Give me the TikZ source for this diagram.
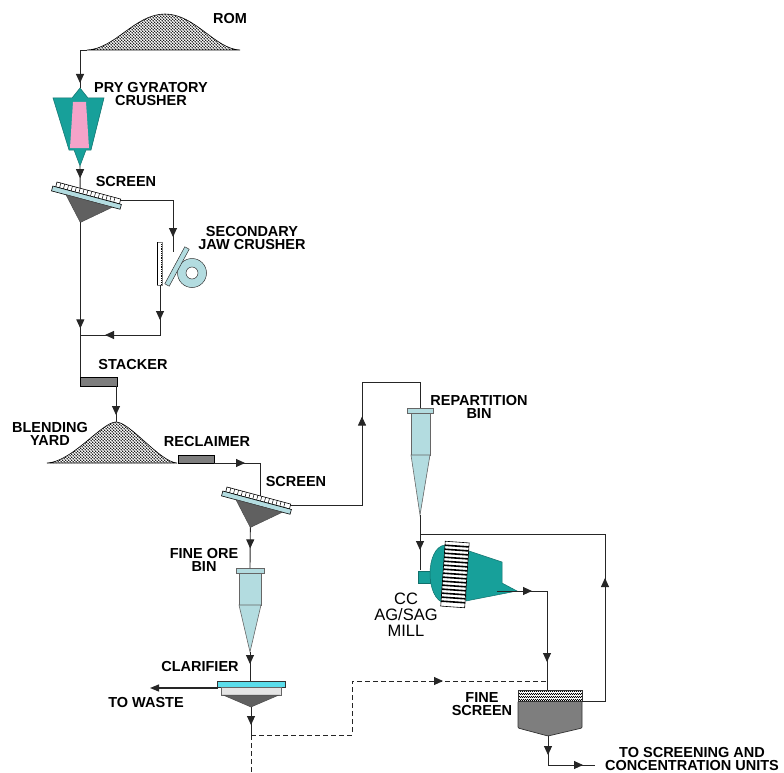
\documentclass[tikz,border=0pt]{standalone}
\usepackage{fontspec}
\setmainfont{Liberation Sans}
\usetikzlibrary{arrows.meta,decorations.markings,patterns}
\definecolor{millteal}{HTML}{17A09A}
\definecolor{linerpink}{HTML}{F4A3C9}
\definecolor{binblue}{HTML}{B3DCE0}
\definecolor{clarcyan}{HTML}{5BDDEB}
\definecolor{beltgray}{HTML}{7E7E7E}
\pgfdeclarepatternformonly{piledots}{\pgfpointorigin}{\pgfqpoint{3.4pt}{3.4pt}}{\pgfqpoint{3.4pt}{3.4pt}}{%
  \pgfpathcircle{\pgfqpoint{0.85pt}{0.85pt}}{0.9pt}%
  \pgfpathcircle{\pgfqpoint{2.55pt}{2.55pt}}{0.9pt}%
  \pgfusepath{fill}}
\pgfdeclarepatternformonly{meshdots}{\pgfpointorigin}{\pgfqpoint{2.4pt}{2.4pt}}{\pgfqpoint{2.4pt}{2.4pt}}{%
  \pgfpathcircle{\pgfqpoint{0.6pt}{0.6pt}}{0.85pt}%
  \pgfpathcircle{\pgfqpoint{1.8pt}{1.8pt}}{0.85pt}%
  \pgfusepath{fill}}

\begin{document}
\begin{tikzpicture}[x=1pt,y=-1pt,
    flow/.style={draw=black!85, line width=0.9pt},
    arr/.style={postaction={decorate,decoration={markings,mark=at position #1 with {\arrow{Triangle[length=9pt,width=8pt]}}}}},
    lbl/.style={font=\bfseries\fontsize{14.5}{13}\selectfont, align=center, inner sep=0pt},
    pile/.style={draw=black, line width=0.6pt, pattern=piledots},
    belt/.style={draw=black, line width=0.6pt, fill=beltgray},
    binbox/.style={draw=black!60, line width=0.6pt, fill=binblue},
    vibscreen/.pic={
        \draw[fill=white, line width=0.6pt] (0,0) rectangle (66,5);
        \foreach \u in {4,8,...,62} \draw[line width=0.5pt] (\u,0) -- (\u,5);
        \draw[fill=binblue, line width=0.6pt] (-3,5) rectangle (68,10);
        \draw[fill=gray!75!black, draw=black!70, line width=0.5pt] (12,10) -- (60,10) -- (33,33) -- cycle;
        \coordinate (-in) at (#1,0);
        \coordinate (-out) at (66,1);
        \coordinate (-apex) at (33,33);
    }]
\useasboundingbox (0,0) rectangle (784,773);

\coordinate (rom-foot) at (87,50);
\coordinate (cr-top) at (80,88);
\coordinate (cr-bot) at (80,166);
\coordinate (jaw-in) at (173,252);
\coordinate (jaw-bot) at (160,285);
\coordinate (j1) at (80,335);
\coordinate (stk-l) at (80,377);
\coordinate (stk-r) at (116,386);
\coordinate (yard-top) at (116,422);
\coordinate (recl-r) at (214,463);
\coordinate (c1) at (362,382);
\coordinate (rb-top) at (420,408);
\coordinate (rb-apex) at (420,515);
\coordinate (rb-split) at (420,534);
\coordinate (mill-in) at (420,570);
\coordinate (mill-out) at (497,591);
\coordinate (fob-top) at (250,568);
\coordinate (fob-apex) at (250,652);
\coordinate (clar-top) at (250,681);
\coordinate (clar-left) at (218,688);
\coordinate (waste) at (150,688);
\coordinate (clar-apex) at (251,707);
\coordinate (dash-split) at (251,735);
\coordinate (dash-end) at (251,773);
\coordinate (c2) at (352,681);
\coordinate (fs-top) at (547,690);
\coordinate (fs-right) at (582,701);
\coordinate (fs-apex) at (548,736);
\coordinate (c3) at (605,534);
\coordinate (prod) at (595,765);

% ROM pile and primary crusher
\draw[pile] (87,50) .. controls (115,49) and (135,14) .. (165,14) .. controls (195,14) and (215,49) .. (240,50) -- cycle;
\draw[fill=millteal, draw=millteal!70!black, line width=0.5pt] (53,98) -- (72,98) -- (80,88) -- (88,98) -- (104,98) -- (91,150) -- (86,150) -- (80,166) -- (74,150) -- (69,150) -- cycle;
\fill[linerpink] (73,102) -- (86,102) -- (89,148) -- (70,148) -- cycle;

% screens
\pic[rotate=-15] (s1) at (57,182) {vibscreen=24};
\pic[rotate=-15] (s2) at (227,487) {vibscreen=35};

% secondary jaw crusher
\draw[fill=white, draw=black!50, line width=0.5pt] (157,242) rectangle (162,285);
\draw[line width=0.8pt] (157,242) -- (157,285);
\draw[densely dotted, line width=0.8pt] (161,244) -- (161,284);
\draw[fill=binblue, draw=black!80, line width=0.5pt] (192,273) circle (14.5);
\draw[fill=white, draw=black!80, line width=0.5pt] (192,273) circle (6);
\draw[fill=binblue, draw=black!80, line width=0.5pt] (164.8,283.8) -- (184.8,246.8) -- (189.2,249.2) -- (169.2,286.2) -- cycle;

% stacker, blending yard, reclaimer
\draw[belt] (80,377) rectangle (117,386);
\draw[pile] (47,463) .. controls (72,462) and (102,422) .. (116,422) .. controls (130,422) and (160,462) .. (177,463) -- cycle;
\draw[belt] (178,455) rectangle (214,463);

% bins
\draw[binbox] (411,413) rectangle (430,455);
\draw[binbox] (411,455) -- (430,455) -- (420,515) -- cycle;
\draw[binbox] (407,408) rectangle (433,413);
\draw[binbox] (239,573) rectangle (261,605);
\draw[binbox] (239,605) -- (261,605) -- (250,652) -- cycle;
\draw[binbox] (236,568) rectangle (264,573);

% mill
\draw[fill=millteal, draw=millteal!70!black, line width=0.5pt] (418,571) rectangle (430,583);
\draw[fill=millteal, draw=millteal!70!black, line width=0.5pt] (445,545) .. controls (425,547) and (425,600) .. (445,603) -- cycle;
\draw[fill=millteal, draw=millteal!70!black, line width=0.5pt] (466,550) -- (502,562) -- (502,583) -- (517,591) -- (466,601) -- cycle;
\begin{scope}[rotate around={-4:(455,574)}]
\draw[fill=white, line width=0.6pt] (443,542) rectangle (467,607);
\foreach \v in {546,550,...,604} \draw[line width=1.6pt] (443,\v) -- (467,\v);
\end{scope}

% clarifier
\draw[fill=clarcyan, draw=black!80, line width=0.6pt] (217,681) rectangle (285,687);
\draw[fill=gray!20, draw=black!60, line width=0.5pt] (221,687) rectangle (281,695);
\draw[fill=gray!75!black, draw=black!70, line width=0.5pt] (223,695) -- (251,707) -- (279,695) -- cycle;

% fine screen
\draw[fill=beltgray, draw=black!80, line width=0.7pt, rounded corners=1pt] (518,701) -- (518,728) -- (548,736) -- (582,728) -- (582,701) -- cycle;
\fill[white] (518,690) rectangle (582,701);
\draw[draw=black!80, line width=0.6pt, pattern=meshdots] (518,690) rectangle (582,701);

% flows
\draw[flow, arr=-5pt] (rom-foot) -| (cr-top);
\draw[flow, arr=-10pt] (cr-bot) -- (s1-in);
\draw[flow, arr=-15pt] (s1-out) -| (jaw-in);
\draw[flow, arr=106pt] (s1-apex) -- (s1-apex |- stk-l);
\draw[flow, arr=35pt, arr=105pt] (jaw-bot) |- (j1);
\draw[flow, arr=-7pt] (stk-r) -- (yard-top);
\draw[flow, arr=31pt] (recl-r) -| (s2-in);
\draw[flow, arr=21pt] (s2-apex) -- (fob-top);
\draw[flow, arr=160pt] (s2-out) -| (c1) -| (rb-top);
\draw[flow, arr=12pt] (fob-apex) -- (clar-top);
\draw[flow, line width=1.3pt, -{Triangle[length=9pt,width=7pt]}] (clar-left) -- (waste);
\draw[flow, arr=-10pt] (clar-apex) -- (dash-split);
\draw[flow, dash pattern=on 5pt off 3pt] (dash-split) -- (dash-end);
\draw[flow, dash pattern=on 5pt off 3pt, arr=246pt] (dash-split) -| (c2) -- (fs-top |- c2);
\draw[flow, arr=35pt] (rb-apex) -- (mill-in);
\draw[flow, arr=35pt, arr=121pt] (mill-out) -| (fs-top);
\draw[flow, arr=146pt] (fs-right) -| (c3) -- (rb-split);
\draw[flow, arr=19pt, arr=64pt] (fs-apex) |- (prod);

% labels
\node[lbl] (rom) at (230,19) {ROM};
\node[lbl] (pry) at (151,94) {PRY GYRATORY\\CRUSHER};
\node[lbl] (scr1) at (126,182) {SCREEN};
\node[lbl] (jaw) at (252,238.5) {SECONDARY\\JAW CRUSHER};
\node[lbl] (stk) at (133,365) {STACKER};
\node[lbl] (yard) at (50,433.5) {BLENDING\\YARD};
\node[lbl] (recl) at (207,442) {RECLAIMER};
\node[lbl] (scr2) at (296,482) {SCREEN};
\node[lbl] (rbin) at (479,406.5) {REPARTITION\\BIN};
\node[lbl] (fob) at (204,560) {FINE ORE\\BIN};
\node[align=center, inner sep=0pt, font=\fontsize{16.5}{16}\selectfont] (mill) at (406,615) {CC\\AG/SAG\\MILL};
\node[lbl] (clar) at (200,667) {CLARIFIER};
\node[lbl] (tw) at (146,703) {TO WASTE};
\node[lbl] (fscr) at (482,704.5) {FINE\\SCREEN};
\node[lbl] (tsc) at (692,759) {TO SCREENING AND\\CONCENTRATION UNITS};
\end{tikzpicture}
\end{document}
